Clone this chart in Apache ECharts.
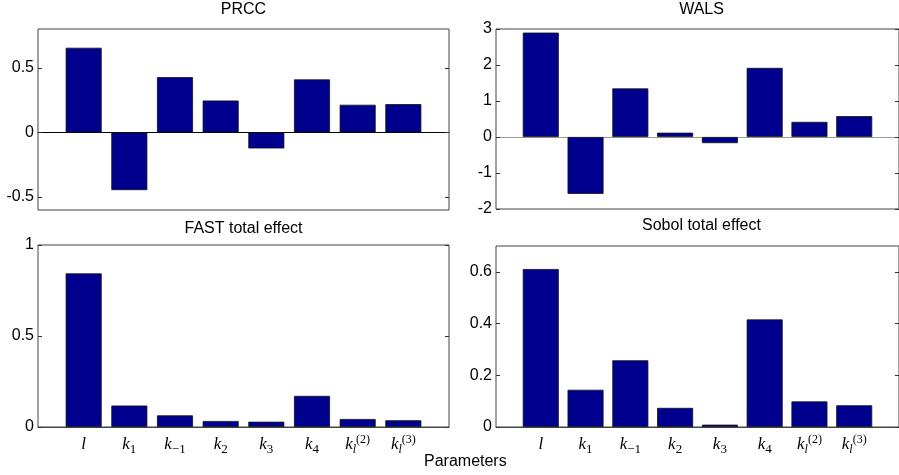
<!DOCTYPE html>
<html><head><meta charset="utf-8">
<script src="https://cdn.jsdelivr.net/npm/echarts@6/dist/echarts.min.js"></script>
<style>html,body{margin:0;padding:0;background:#fff}#c{width:899px;height:475px}</style>
</head><body><div id="c"></div>
<script>
const categories = ['l', 'k1', 'k-1', 'k2', 'k3', 'k4', 'kl2', 'kl3'];
const prcc  = [0.655, -0.446, 0.428, 0.247, -0.124, 0.41, 0.214, 0.219];
const wals  = [2.9, -1.58, 1.35, 0.12, -0.17, 1.92, 0.42, 0.58];
const fast  = [0.844, 0.118, 0.064, 0.033, 0.029, 0.171, 0.044, 0.037];
const sobol = [0.611, 0.144, 0.258, 0.074, 0.009, 0.416, 0.099, 0.084];
const prccTicks  = [-0.5, 0, 0.5];
const walsTicks  = [-2, -1, 0, 1, 2, 3];
const fastTicks  = [0, 0.5, 1];
const sobolTicks = [0, 0.2, 0.4, 0.6];
const titles = ['PRCC', 'WALS', 'FAST total effect', 'Sobol total effect'];

const labelRich = {
  'l': '{it|l}',
  'k1': '{it|k}{sub|1}',
  'k-1': '{it|k}{sub|−1}',
  'k2': '{it|k}{sub|2}',
  'k3': '{it|k}{sub|3}',
  'k4': '{it|k}{sub|4}',
  'kl2': '{it|k}{subi|l}{sup|(2)}',
  'kl3': '{it|k}{subi|l}{sup|(3)}'
};
const serif = 'Liberation Serif';
const rich = {
  it: {fontFamily: serif, fontStyle: 'italic', fontSize: 17, lineHeight: 22, color: '#000', verticalAlign: 'middle'},
  sub: {fontFamily: serif, fontSize: 13, lineHeight: 12, color: '#000', verticalAlign: 'bottom'},
  subi: {fontFamily: serif, fontStyle: 'italic', fontSize: 12, lineHeight: 12, color: '#000', verticalAlign: 'bottom'},
  sup: {fontFamily: serif, fontSize: 12, lineHeight: 11, color: '#000', verticalAlign: 'top'}
};

const panels = [
  {vals: prcc, ticks: prccTicks, min: -0.6, max: 0.8, grid: {left: 38, top: 29, width: 411, height: 181}, zero: '#000', showX: false},
  {vals: wals, ticks: walsTicks, min: -2, max: 3, grid: {left: 496, top: 29, width: 411, height: 180}, zero: '#999', showX: false},
  {vals: fast, ticks: fastTicks, min: 0, max: 1, grid: {left: 38, top: 245, width: 411, height: 182}, zero: '#444', showX: true},
  {vals: sobol, ticks: sobolTicks, min: 0, max: 0.7, grid: {left: 496, top: 246, width: 411, height: 181}, zero: '#444', showX: true}
];
const titlePos = [{x: 243.5, y: 2}, {x: 701.5, y: 2}, {x: 243.5, y: 221}, {x: 701.5, y: 218}];

const font = 'Liberation Sans';
const option = {
  animation: false,
  backgroundColor: '#fff',
  title: titles.map((t, i) => ({
    text: t, left: titlePos[i].x, top: titlePos[i].y, textAlign: 'center', padding: 0,
    textStyle: {fontFamily: font, fontSize: 16, fontWeight: 'normal', color: '#000'}
  })),
  grid: panels.map(p => Object.assign({show: true, borderColor: '#444', borderWidth: 1, backgroundColor: '#fff'}, p.grid)),
  xAxis: panels.map((p, i) => ({
    type: 'value', gridIndex: i, min: 0, max: 9,
    splitLine: {show: false},
    axisLine: {show: true, onZero: true, lineStyle: {color: p.zero, width: 1}},
    axisTick: {show: false},
    axisLabel: {
      show: p.showX, customValues: [1, 2, 3, 4, 5, 6, 7, 8], margin: 7,
      formatter: v => labelRich[categories[v - 1]] || '', rich: rich
    }
  })),
  yAxis: panels.flatMap((p, i) => [
    {
      type: 'value', gridIndex: i, min: p.min, max: p.max, position: 'left',
      splitLine: {show: false}, axisLine: {show: false},
      axisTick: {show: true, inside: true, length: 4, customValues: p.ticks, lineStyle: {color: '#333'}},
      axisLabel: {customValues: p.ticks, margin: 4, fontFamily: font, fontSize: 16, color: '#000',
                  formatter: v => String(+v.toFixed(2))}
    },
    {
      type: 'value', gridIndex: i, min: p.min, max: p.max, position: 'right',
      splitLine: {show: false}, axisLine: {show: false},
      axisTick: {show: true, inside: true, length: 4, customValues: p.ticks, lineStyle: {color: '#333'}},
      axisLabel: {show: false}
    }
  ]),
  series: panels.map((p, i) => ({
    type: 'bar', xAxisIndex: i, yAxisIndex: i * 2, barWidth: 36,
    data: p.vals.map((v, j) => [j + 1, v]),
    itemStyle: {color: '#00008f', borderColor: '#111', borderWidth: 0.8}
  })),
  graphic: [{
    type: 'text', left: 424, top: 454,
    style: {text: 'Parameters', fontFamily: font, fontSize: 16, fill: '#000'}
  }]
};
const chart = echarts.init(document.getElementById('c'), null, {renderer: 'canvas'});
chart.setOption(option);
</script></body></html>
